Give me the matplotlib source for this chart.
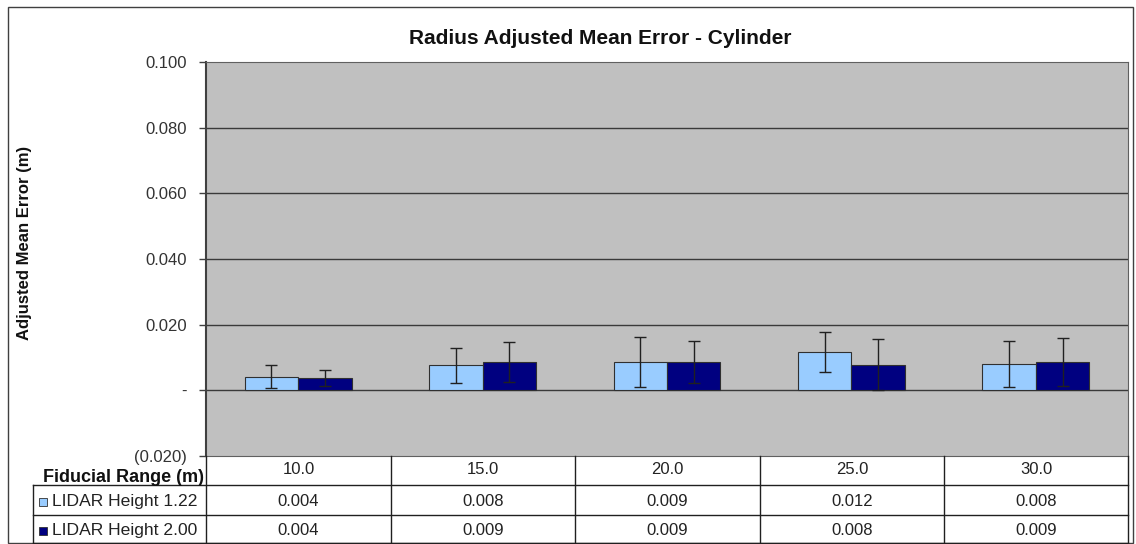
import matplotlib.pyplot as plt
import numpy as np

plt.rcParams["font.family"] = ["Liberation Sans", "DejaVu Sans"]

W, H = 1136, 544

ranges = ["10.0", "15.0", "20.0", "25.0", "30.0"]
series_names = ["LIDAR Height 1.22", "LIDAR Height 2.00"]
height_122 = [0.0042, 0.0076, 0.0086, 0.0117, 0.0080]
height_200 = [0.0038, 0.0086, 0.0086, 0.0078, 0.0086]
err_122 = [0.0035, 0.0054, 0.0075, 0.0061, 0.0069]
err_200 = [0.0024, 0.0060, 0.0064, 0.0077, 0.0074]
y_ticks = [-0.02, 0.0, 0.02, 0.04, 0.06, 0.08, 0.10]
y_ticklabels = ["(0.020)", "-", "0.020", "0.040", "0.060", "0.080", "0.100"]

colors = ["#99ccff", "#000080"]
fs = 12


def fx(px):
    return px / W


def fy(py):
    return 1 - py / H


fig = plt.figure(figsize=(W / 100, H / 100), dpi=100)

# outer frame
fig.add_artist(plt.Rectangle((fx(8), fy(543)), fx(1133) - fx(8), fy(7) - fy(543),
                             transform=fig.transFigure, fill=False, ec="#404040", lw=1))

left, right, top, bottom = 206, 1128, 62, 456
ax = fig.add_axes([fx(left), fy(bottom), fx(right) - fx(left), fy(top) - fy(bottom)])
ax.set_facecolor("#c0c0c0")
ax.set_xlim(-0.5, len(ranges) - 0.5)
ax.set_ylim(-0.02, 0.10)
ax.set_yticks(y_ticks)
ax.set_yticklabels(y_ticklabels, fontsize=fs, color="#333333")
ax.set_xticks([])
ax.tick_params(axis="y", length=5, width=1, color="#404040", pad=9)
for y in y_ticks[1:-1]:
    ax.axhline(y, color="#3a3a3a", lw=1, zorder=1)
for name in ["left", "top", "right", "bottom"]:
    ax.spines[name].set_color("#606060")
ax.spines["left"].set_color("#404040")
ax.spines["left"].set_linewidth(1.5)

x = np.arange(len(ranges))
bw = 0.29
ax.bar(x - bw / 2, height_122, bw, color=colors[0], edgecolor="#303030", lw=0.8, zorder=2)
ax.bar(x + bw / 2, height_200, bw, color=colors[1], edgecolor="#303030", lw=0.8, zorder=2)
ax.errorbar(x - bw / 2, height_122, yerr=err_122, fmt="none", ecolor="#202020",
            elinewidth=1, capsize=4, capthick=1, zorder=3)
ax.errorbar(x + bw / 2, height_200, yerr=err_200, fmt="none", ecolor="#202020",
            elinewidth=1, capsize=4, capthick=1, zorder=3)

fig.text(fx(600), fy(38), "Radius Adjusted Mean Error - Cylinder", ha="center", va="center",
         fontsize=15, fontweight="bold", color="#111111")
fig.text(fx(25), fy(243), "Adjusted Mean Error (m)", rotation=90, ha="center", va="center",
         fontsize=fs, fontweight="bold", color="#111111")

# data table under the plot
col_edges = [206, 391, 575, 760, 944, 1128]
row_edges = [456, 485, 515, 543]
line_kw = dict(transform=fig.transFigure, color="#202020", lw=1)
for py in row_edges[1:]:
    fig.add_artist(plt.Line2D([fx(33), fx(1128)], [fy(py), fy(py)], **line_kw))
for px in col_edges:
    fig.add_artist(plt.Line2D([fx(px), fx(px)], [fy(456), fy(543)], **line_kw))
fig.add_artist(plt.Line2D([fx(33), fx(33)], [fy(485), fy(543)], **line_kw))

fig.text(fx(204), fy(477), "Fiducial Range (m)", ha="right", va="center",
         fontsize=13, fontweight="bold", color="#111111")
for i, lab in enumerate(ranges):
    cx = (col_edges[i] + col_edges[i + 1]) / 2
    fig.text(fx(cx), fy(469), lab, ha="center", va="center", fontsize=fs, color="#222222")

for r, (name, vals) in enumerate(zip(series_names, [height_122, height_200])):
    cy = (row_edges[r + 1] + row_edges[r + 2]) / 2 + 1.5
    fig.add_artist(plt.Rectangle((fx(39), fy(cy + 4)), fx(8), fy(0) - fy(8),
                                 transform=fig.transFigure, fc=colors[r], ec="#303030", lw=0.6))
    fig.text(fx(52), fy(cy), name, ha="left", va="center", fontsize=12.6, color="#222222")
    for i, v in enumerate(vals):
        cx = (col_edges[i] + col_edges[i + 1]) / 2
        fig.text(fx(cx), fy(cy), f"{v:.3f}", ha="center", va="center", fontsize=fs,
                 color="#222222")

fig.savefig("out.png", dpi=100)
